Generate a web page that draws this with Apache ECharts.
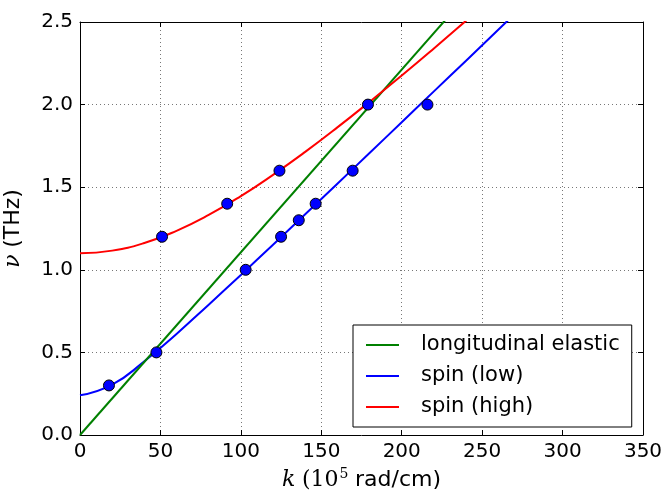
<!DOCTYPE html>
<html>
<head>
<meta charset="utf-8">
<script src="https://cdn.jsdelivr.net/npm/echarts@6/dist/echarts.min.js"></script>
<style>
  html, body { margin: 0; padding: 0; background: #fff; }
  #my-charts { width: 664px; height: 492px; }
</style>
</head>
<body>
<div id="my-charts"></div>
<script>
var kSamples = [0, 20, 40, 60, 80, 100, 120, 140, 160, 180, 200, 220, 240, 260, 280]
// frequency (THz) of each curve at those k
var spinLowNu = [0.24, 0.305, 0.446, 0.612, 0.789, 0.969, 1.152, 1.336, 1.521, 1.707, 1.893, 2.08, 2.266, 2.453, 2.64]
var spinHighNu = [1.1, 1.116, 1.162, 1.236, 1.332, 1.446, 1.575, 1.714, 1.862, 2.017, 2.176, 2.34, 2.508, 2.678, 2.85]
var elasticK = [0, 250]
var elasticNu = [0, 2.765]
// measured points
var lowPointsK = [18, 47.5, 103, 125, 136, 146.5, 169.5, 216]
var lowPointsNu = [0.3, 0.5, 1.0, 1.2, 1.3, 1.4, 1.6, 2.0]
var highPointsK = [51, 91.5, 124, 179]
var highPointsNu = [1.2, 1.4, 1.6, 2.0]
// axis ticks
var xTicks = [0, 50, 100, 150, 200, 250, 300, 350]
var yTicks = [0, 0.5, 1.0, 1.5, 2.0, 2.5]

function pairs(xs, ys) {
  return xs.map(function (x, i) { return [x, ys[i]] })
}

var myChart = echarts.init(document.getElementById('my-charts'))

var frame = { show: true, onZero: false, lineStyle: { color: '#000', width: 1 } }
var tick = { show: true, inside: true, length: 5, lineStyle: { color: '#000' } }
var grid = { show: true, lineStyle: { color: '#777', type: [1, 3], width: 1 } }
var tickFont = { color: '#000', fontSize: 20, fontFamily: 'DejaVu Sans' }

var option = {
  animation: false,
  backgroundColor: '#fff',
  grid: { left: 80, right: 21, top: 22, bottom: 57, containLabel: false, outerBoundsMode: 'none' },
  xAxis: [
    {
      type: 'value', min: xTicks[0], max: xTicks[xTicks.length - 1], interval: 50,
      position: 'bottom',
      axisLine: frame, axisTick: tick, splitLine: grid,
      axisLabel: Object.assign({ margin: 7 }, tickFont),
      name: '{k|k}  {p|(10}{s|5}  {t|rad/cm)}',
      nameLocation: 'middle', nameGap: 32,
      nameTextStyle: {
        rich: {
          k: { fontFamily: 'DejaVu Serif', fontStyle: 'italic', fontSize: 22, color: '#000' },
          p: { fontFamily: 'DejaVu Serif', fontSize: 22, color: '#000' },
          s: { fontFamily: 'DejaVu Serif', fontSize: 14, color: '#000', verticalAlign: 'top', padding: [0, 0, 12, 1] },
          t: { fontFamily: 'DejaVu Sans', fontSize: 22, color: '#000' }
        }
      }
    },
    {
      type: 'value', min: 0, max: 350, interval: 50, position: 'top',
      axisLine: frame, axisTick: tick, axisLabel: { show: false }, splitLine: { show: false }
    }
  ],
  yAxis: [
    {
      type: 'value', min: yTicks[0], max: yTicks[yTicks.length - 1], interval: 0.5,
      position: 'left',
      axisLine: frame, axisTick: tick, splitLine: grid,
      axisLabel: Object.assign({ margin: 7, formatter: function (v) { return v.toFixed(1) } }, tickFont),
      name: '{n|ν}  {t|(THz)}',
      nameLocation: 'middle', nameGap: 56, nameRotate: 90,
      nameTextStyle: {
        rich: {
          n: { fontFamily: 'DejaVu Serif', fontStyle: 'italic', fontSize: 22, color: '#000' },
          t: { fontFamily: 'DejaVu Sans', fontSize: 22, color: '#000' }
        }
      }
    },
    {
      type: 'value', min: 0, max: 2.5, interval: 0.5, position: 'right',
      axisLine: frame, axisTick: tick, axisLabel: { show: false }, splitLine: { show: false }
    }
  ],
  legend: {
    orient: 'vertical',
    left: 353, top: 325,
    padding: [8, 12, 8, 13],
    icon: 'rect',
    itemWidth: 33, itemHeight: 2, itemGap: 7,
    backgroundColor: '#fff',
    borderColor: '#000', borderWidth: 1, borderRadius: 0,
    textStyle: { fontSize: 21, fontFamily: 'DejaVu Sans', color: '#000', lineHeight: 24, padding: [0, 0, 0, 17] },
    data: ['longitudinal elastic', 'spin (low)', 'spin (high)']
  },
  series: [
    {
      name: 'longitudinal elastic', type: 'line', symbol: 'none',
      data: pairs(elasticK, elasticNu),
      lineStyle: { color: '#008000', width: 2 }, itemStyle: { color: '#008000' }, z: 3
    },
    {
      name: 'spin (low)', type: 'line', symbol: 'none', smooth: true,
      data: pairs(kSamples, spinLowNu),
      lineStyle: { color: '#0000ff', width: 2 }, itemStyle: { color: '#0000ff' }, z: 2
    },
    {
      name: 'spin (high)', type: 'line', symbol: 'none', smooth: true,
      data: pairs(kSamples, spinHighNu),
      lineStyle: { color: '#ff0000', width: 2 }, itemStyle: { color: '#ff0000' }, z: 3
    },
    {
      name: 'low points', type: 'scatter', symbolSize: 11,
      data: pairs(lowPointsK, lowPointsNu),
      itemStyle: { color: '#0000ff', borderColor: '#000', borderWidth: 1, opacity: 1 }, z: 4
    },
    {
      name: 'high points', type: 'scatter', symbolSize: 11,
      data: pairs(highPointsK, highPointsNu),
      itemStyle: { color: '#0000ff', borderColor: '#000', borderWidth: 1, opacity: 1 }, z: 4
    }
  ]
}

myChart.setOption(option)
</script>
</body>
</html>
